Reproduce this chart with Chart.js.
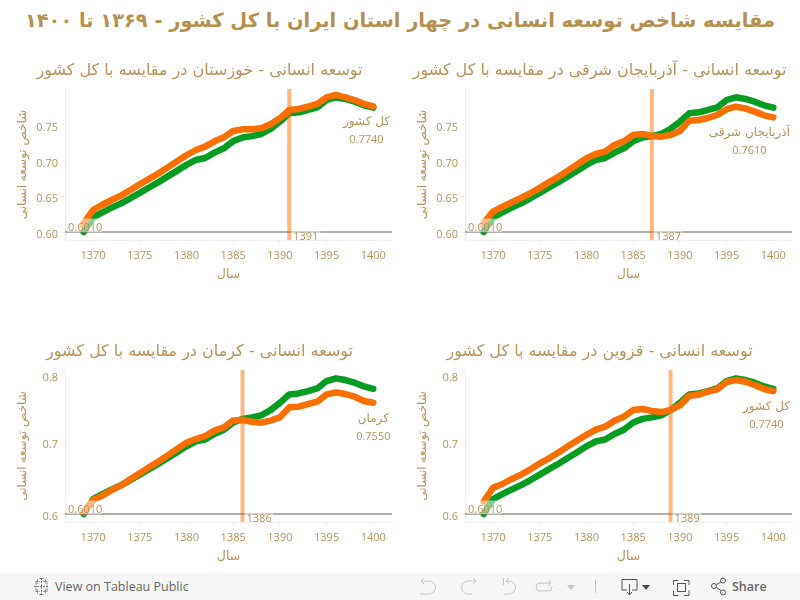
<!DOCTYPE html>
<html lang="fa">
<head>
<meta charset="utf-8">
<script src="https://cdn.jsdelivr.net/npm/chart.js@4/dist/chart.umd.js"></script>
<style>
  html, body { margin: 0; padding: 0; background: #fff; width: 800px; height: 600px; overflow: hidden; }
  h1 {
    position: absolute; left: 0; top: 8px; width: 800px; margin: 0; text-align: center;
    font: bold 19.4px "DejaVu Sans"; line-height: 26px; color: #b5904f; direction: rtl; white-space: nowrap;
  }
  .panel { position: absolute; width: 400px; }
  #bar { position: absolute; left: 0; top: 573px; width: 800px; height: 27px; background: #f6f6f6; color: #666;
    font: 12.5px "Open Sans"; }
  #bar span { position: absolute; top: 5px; line-height: 17px; }
  #bar svg { position: absolute; left: 0; top: 0; }
</style>
</head>
<body>
<h1>مقایسه شاخص توسعه انسانی در چهار استان ایران با کل کشور - ۱۳۶۹ تا ۱۴۰۰</h1>
<div class="panel" style="left:0;top:50px"><canvas id="khuzestan" width="400" height="240"></canvas></div>
<div class="panel" style="left:400px;top:50px"><canvas id="azarbaijan" width="400" height="240"></canvas></div>
<div class="panel" style="left:0;top:331px"><canvas id="kerman" width="400" height="241"></canvas></div>
<div class="panel" style="left:400px;top:331px"><canvas id="qazvin" width="400" height="241"></canvas></div>
<div id="bar">
  <svg width="800" height="27" fill="none" stroke-width="1">
    <path d="M41.5 5v17M34 13.5h15M36 9.5v8M47 9.5v8M37.500 6.500v4M45.500 6.500v4M37.500 16.500v4M45.500 16.500v4M35.500 8.500h4M43.500 8.500h4M35.500 18.500h4M43.500 18.500h4M39.500 5.500h4M39.500 21.500h4" stroke="#777" stroke-dasharray="2 1"/>
    <path d="M421 8h8a6.500 6.500 0 0 1 0 13h-9M424 5l-3 3 3 3" stroke="#c4c4c4"/>
    <path d="M476 8h-8a6.500 6.500 0 0 0 0 13h4M473 5l3 3-3 3" stroke="#c4c4c4"/>
    <path d="M503.500 5v7M506 8h3a6.500 6.500 0 0 1 0 13h-5M509 5l-3 3 3 3" stroke="#c4c4c4"/>
    <path d="M551 10h-11a4 4 0 0 0 0 8h8a4 4 0 0 0 4-4v-1M548 7l3 3-3 3" stroke="#c4c4c4"/>
    <path d="M567 12h8l-4 5z" fill="#c4c4c4"/>
    <path d="M595.500 7v13" stroke="#c4c4c4"/>
    <path d="M627 17h-5V6.500h15V17h-5M629.500 11v10M627 19l2.500 3 2.500-3" stroke="#555"/>
    <path d="M642 12h8l-4 5z" fill="#444"/>
    <path d="M673.500 12V7.500h5M684 7.500h5V12M689 17.500v5h-5M678.500 22.500h-5v-5" stroke="#555"/>
    <rect x="677.500" y="10.500" width="8" height="8" stroke="#555"/>
    <circle cx="714" cy="13" r="2.500" stroke="#555"/><circle cx="723" cy="7.500" r="2.500" stroke="#555"/><circle cx="723" cy="19.500" r="2.500" stroke="#555"/>
    <path d="M716.500 11.500l4.500-2.500M716.500 14.500l4.500 3" stroke="#555"/>
  </svg>
  <span style="left:55px">View on Tableau Public</span>
  <span style="left:732px;font-weight:600">Share</span>
</div>
<script>
const years = [1369,1370,1371,1372,1373,1374,1375,1376,1377,1378,1379,1380,1381,1382,1383,1384,1385,1386,1387,1388,1389,1390,1391,1392,1393,1394,1395,1396,1397,1398,1399,1400];
const national = [.601,.6216,.6285,.635,.641,.648,.6555,.663,.6705,.6785,.6865,.6945,.7013,.704,.7115,.7175,.7275,.7325,.7345,.7374,.7445,.7545,.7662,.7676,.7708,.7745,.7847,.7885,.7861,.7824,.7773,.774];
const khuzestan = [.6132,.6317,.639,.6456,.6517,.6595,.6675,.675,.6825,.691,.6995,.7078,.7152,.7198,.7272,.7328,.7416,.7439,.7439,.7453,.7509,.7592,.7708,.7722,.7754,.7792,.7884,.7917,.7884,.7847,.7792,.7759];
const azarbaijan = [.6135,.6294,.636,.6425,.6485,.655,.6625,.6705,.678,.6865,.695,.7036,.7096,.7129,.7221,.7272,.736,.7374,.7346,.7337,.736,.7416,.756,.7569,.7597,.7639,.772,.7754,.7731,.7685,.7634,.7606];
const kerman = [.6029,.6204,.6264,.6342,.6405,.649,.6575,.6655,.6735,.682,.691,.6995,.7046,.7088,.7162,.7208,.7304,.7309,.7286,.7272,.73,.7346,.7484,.7493,.753,.7562,.7663,.7691,.7668,.7631,.7571,.7548];
const qazvin = [.6181,.6374,.6425,.6494,.6554,.6628,.671,.678,.686,.6945,.7025,.7105,.7175,.7217,.73,.7355,.7447,.7461,.7433,.7419,.7447,.7511,.7645,.7659,.77,.7732,.7834,.7861,.7838,.7792,.7737,.7709];
const xTicks = [1370,1375,1380,1385,1390,1395,1400];
const yTicksTop = [.6,.65,.7,.75];
const yTicksBottom = [.6,.7,.8];
const startValue = .601;

const TEXT = "#b8935a";
const GREEN = "#049d22";
const ORANGE = "#fb6f00";
const NUM_FONT = '"Open Sans"';
const FA_FONT = '"DejaVu Sans"';

// value labels, reference line labels and the y tick labels
const labelsPlugin = {
  id: "labels",
  afterDatasetsDraw(chart, args, opts) {
    const { ctx, chartArea: area, scales: { x, y } } = chart;
    ctx.save();
    ctx.textBaseline = "middle";

    // y ticks sit a bit below their value, and stay inside the plot at the top
    ctx.fillStyle = TEXT;
    ctx.font = `11px ${NUM_FONT}`;
    ctx.textAlign = "right";
    opts.yTicks.forEach(v => {
      ctx.fillText(v.toFixed(opts.yDigits), area.left - 7, Math.max(y.getPixelForValue(v) + 2.5, area.top + 8));
    });

    // box behind the start label washes out what is under it
    const startY = y.getPixelForValue(startValue);
    ctx.fillStyle = "rgba(255,255,255,.5)";
    ctx.fillRect(area.left + 2, startY - 13.5, 35, 13.5);
    ctx.fillStyle = TEXT;
    ctx.textAlign = "left";
    ctx.fillText(startValue.toFixed(4), area.left + 3, startY - 4.5);

    // year of the vertical line
    const bandX = x.getPixelForValue(opts.crossYear);
    ctx.fillStyle = "rgba(255,255,255,.5)";
    ctx.fillRect(bandX + 2, startY - 1, 29, 9);
    ctx.fillStyle = TEXT;
    ctx.fillText(String(opts.crossYear), bandX + 4, startY + 5);

    // name and value next to the end of the line
    const endX = x.getPixelForValue(years[years.length - 1]);
    const endY = y.getPixelForValue(opts.values[opts.values.length - 1]);
    ctx.font = `12px ${FA_FONT}`;
    const w = ctx.measureText(opts.name).width;
    const cx = Math.min(endX, area.right - 2 - w / 2);
    ctx.textAlign = "center";
    ctx.direction = "rtl";
    ctx.fillText(opts.name, cx, endY + 16);
    ctx.direction = "ltr";
    ctx.font = `11px ${NUM_FONT}`;
    ctx.fillText(opts.endLabel, cx, endY + 34);
    ctx.restore();
  }
};

function drawPanel(id, title, values, name, endLabel, crossYear, yTicks, yDigits) {
  const toPoints = vals => years.map((yr, i) => ({ x: yr, y: vals[i] }));
  new Chart(document.getElementById(id), {
    type: "line",
    plugins: [labelsPlugin],
    data: {
      datasets: [
        { data: [{ x: crossYear, y: .59 }, { x: crossYear, y: .8 }], borderColor: "rgba(251,111,0,.5)", borderWidth: 4, order: 1 },
        { data: [{ x: 1367, y: startValue }, { x: 1402, y: startValue }], borderColor: "rgba(120,120,120,.6)", borderWidth: 2, order: 2 },
        { data: toPoints(values), borderColor: ORANGE, borderWidth: 6.5, borderCapStyle: "round", borderJoinStyle: "round", order: 3 },
        { data: toPoints(national), borderColor: GREEN, borderWidth: 6.5, borderCapStyle: "round", borderJoinStyle: "round", order: 4 }
      ]
    },
    options: {
      responsive: false,
      animation: false,
      elements: { point: { radius: 0 } },
      layout: { padding: { left: 7, right: 8 } },
      plugins: {
        legend: { display: false },
        tooltip: { enabled: false },
        title: {
          display: true,
          text: title,
          color: TEXT,
          font: { family: FA_FONT, size: 16, weight: "normal" },
          padding: { top: 11.4, bottom: 8.4 }
        },
        labels: { values, name, endLabel, crossYear, yTicks, yDigits }
      },
      scales: {
        x: {
          type: "linear",
          min: 1367,
          max: 1402,
          afterBuildTicks: s => { s.ticks = xTicks.map(value => ({ value })); },
          afterFit: s => { s.height = 50; },
          border: { color: "#eee" },
          grid: { drawOnChartArea: false, color: "#eee", tickLength: 4 },
          ticks: { color: TEXT, font: { family: NUM_FONT, size: 11 }, padding: 5, maxRotation: 0, callback: v => String(v) },
          title: { display: true, text: "سال", color: TEXT, font: { family: FA_FONT, size: 12.5 }, padding: { top: 0, bottom: 8 } }
        },
        y: {
          min: .59,
          max: .8,
          afterBuildTicks: s => { s.ticks = yTicks.map(value => ({ value })); },
          afterFit: s => { s.width = 58; },
          border: { color: "#eee" },
          grid: { drawOnChartArea: false, color: "#eee", tickLength: 4 },
          ticks: { display: false },
          title: { display: true, text: "شاخص توسعه انسانی", color: TEXT, font: { family: FA_FONT, size: 12 }, padding: { top: 9, bottom: 0 } }
        }
      }
    }
  });
}

drawPanel("khuzestan", "توسعه انسانی - خوزستان در مقایسه با کل کشور", khuzestan, "کل کشور", "0.7740", 1391, yTicksTop, 2);
drawPanel("azarbaijan", "توسعه انسانی - آذربایجان شرقی در مقایسه با کل کشور", azarbaijan, "آذربایجان شرقی", "0.7610", 1387, yTicksTop, 2);
drawPanel("kerman", "توسعه انسانی - کرمان در مقایسه با کل کشور", kerman, "کرمان", "0.7550", 1386, yTicksBottom, 1);
drawPanel("qazvin", "توسعه انسانی - قزوین در مقایسه با کل کشور", qazvin, "کل کشور", "0.7740", 1389, yTicksBottom, 1);
</script>
</body>
</html>
